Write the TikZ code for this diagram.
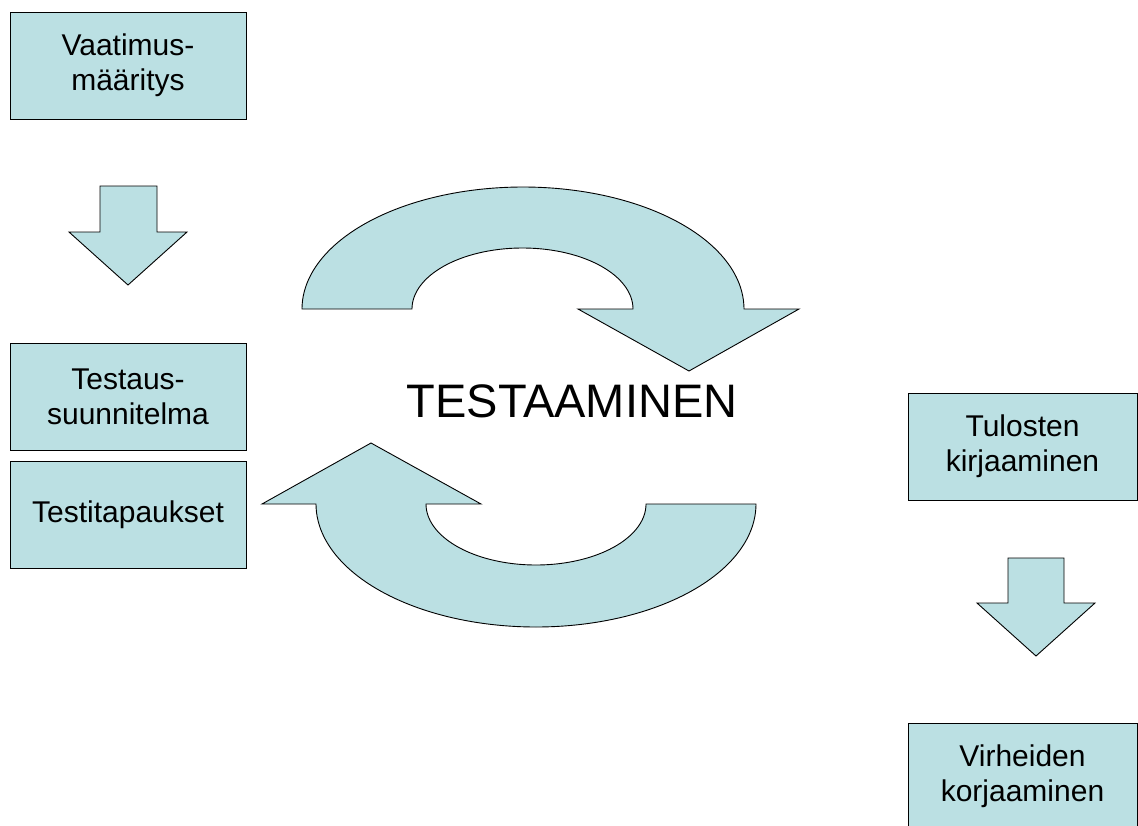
\documentclass[tikz,border=0pt]{standalone}
\usepackage{fontspec}
\setmainfont{Liberation Sans}
\definecolor{paleblue}{HTML}{BBE0E3}
\tikzset{
  stagebox/.style={draw=black, fill=paleblue, line width=0.9pt, rectangle,
    inner sep=0pt, align=center, minimum height=107pt,
    font=\fontsize{30}{35}\selectfont},
  blockarrow/.style={draw=black, fill=paleblue, line width=0.9pt, line join=miter},
  title/.style={font=\fontsize{47}{52}\selectfont, inner sep=0pt, anchor=base}
}
\begin{document}
\begin{tikzpicture}[x=1pt, y=-1pt]
  \useasboundingbox (0,0) rectangle (1138,825);
  \clip (0,0) rectangle (1138,825);

  % left column
  \node[stagebox, minimum width=236pt] (spec) at (128,65.5) {Vaatimus-\\määritys};
  \node[stagebox, minimum width=236pt] (plan) at (128,397) {Testaus-\\suunnitelma};
  \node[stagebox, minimum width=236pt] (cases) at (128,514.5) {Testitapaukset};

  % right column
  \node[stagebox, minimum width=229pt] (log) at (1022.5,446.5) {Tulosten\\kirjaaminen};
  \node[stagebox, minimum width=229pt] (fix) at (1022.5,776.5) {Virheiden\\korjaaminen};

  % centre label
  \node[title] (testing) at (572,417) {TESTAAMINEN};

  % block arrows pointing down
  \draw[blockarrow] (100,186) -- (157,186) -- (157,232) -- (187,232)
    -- (128,285) -- (69,232) -- (100,232) -- cycle;
  \draw[blockarrow] (1008,558) -- (1064,558) -- (1064,603) -- (1095,603)
    -- (1036,656) -- (977,603) -- (1008,603) -- cycle;

  % upper curved arrow, turning right and down
  \draw[blockarrow] (302,309)
    -- plot[domain=180:360, samples=90, smooth] ({523+221*cos(\x)}, {309+122*sin(\x)})
    -- (799,309) -- (689,371) -- (578,309) -- (633,309)
    -- plot[domain=360:180, samples=90, smooth] ({522.5+110.5*cos(\x)}, {309+61*sin(\x)})
    -- cycle;

  % lower curved arrow, turning left and up
  \draw[blockarrow] (262,504) -- (371,443) -- (481,504) -- (426,504)
    -- plot[domain=180:0, samples=90, smooth] ({536+110*cos(\x)}, {504+61*sin(\x)})
    -- (756,504)
    -- plot[domain=0:180, samples=90, smooth] ({536+220*cos(\x)}, {504+123*sin(\x)})
    -- cycle;
\end{tikzpicture}
\end{document}
